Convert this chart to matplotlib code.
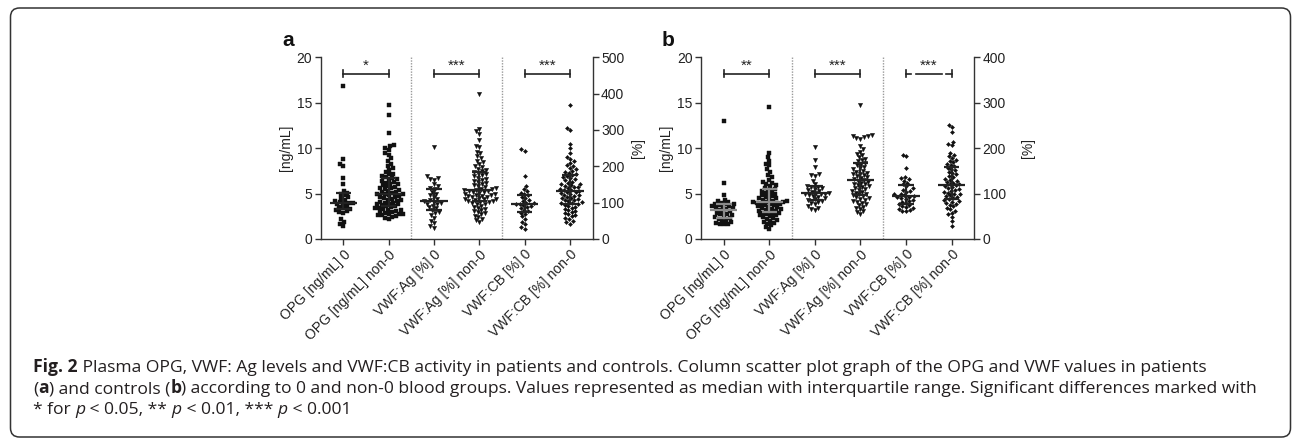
import numpy as np
import matplotlib
matplotlib.use("Agg")
import matplotlib.pyplot as plt
from matplotlib.patches import FancyBboxPatch
from matplotlib.transforms import IdentityTransform

# ---- data ----
categories = ["OPG [ng/mL] 0", "OPG [ng/mL] non-0", "VWF:Ag [%] 0",
              "VWF:Ag [%] non-0", "VWF:CB [%] 0", "VWF:CB [%] non-0"]

# panel a: patients
opg0_a = [16.8, 8.8, 8.3, 8.0, 6.7, 6.0, 5.3, 5.1, 5.0, 4.8, 4.6, 4.5, 4.3, 4.2, 4.1, 4.0,
          4.0, 3.9, 3.8, 3.6, 3.5, 3.4, 3.3, 3.2, 3.1, 3.0, 2.9, 2.2, 1.9, 1.7, 1.4]
opg1_a = [14.7, 13.7, 11.7, 10.3, 10.2, 10.0, 9.8, 9.5, 9.3, 8.9, 8.6, 8.3, 8.0, 7.8, 7.6,
          7.4, 7.2, 7.1, 6.9, 6.8, 6.7, 6.6, 6.5, 6.4, 6.3, 6.2, 6.1, 6.0, 5.9, 5.8, 5.7,
          5.6, 5.6, 5.5, 5.4, 5.3, 5.2, 5.2, 5.1, 5.0, 4.9, 4.9, 4.8, 4.7, 4.6, 4.6, 4.5,
          4.4, 4.3, 4.3, 4.2, 4.1, 4.0, 4.0, 3.9, 3.8, 3.8, 3.7, 3.6, 3.6, 3.5, 3.4, 3.4,
          3.3, 3.2, 3.2, 3.1, 3.0, 3.0, 2.9, 2.8, 2.8, 2.7, 2.6, 2.6, 2.5, 2.4, 2.3, 2.2]
ag0_a = [254, 172, 168, 165, 162, 150, 145, 140, 137, 130, 125, 120, 115, 110, 106, 104,
         103, 100, 97, 95, 92, 88, 84, 80, 75, 71, 66, 58, 50, 43, 35, 30]
ag1_a = [398, 302, 296, 290, 272, 256, 252, 240, 236, 228, 222, 216, 211, 206, 202, 198,
         194, 190, 187, 184, 181, 178, 175, 172, 169, 166, 163, 160, 157, 154, 151, 148,
         145, 142, 139, 138, 137, 135, 134, 133, 131, 129, 128, 127, 125, 123, 122, 121,
         119, 117, 116, 115, 113, 111, 110, 109, 107, 105, 104, 103, 101, 99, 97, 95, 92,
         89, 86, 83, 80, 77, 74, 71, 68, 64, 60, 56, 52, 48]
cb0_a = [247, 242, 173, 146, 138, 132, 127, 124, 120, 116, 112, 108, 104, 100, 98, 96, 95,
         93, 91, 88, 84, 80, 76, 72, 68, 62, 55, 48, 40, 33, 27]
cb1_a = [368, 306, 300, 262, 250, 236, 226, 220, 214, 209, 204, 200, 196, 192, 188, 185,
         182, 179, 176, 173, 170, 167, 164, 161, 158, 155, 152, 150, 148, 146, 144, 142,
         140, 138, 136, 134, 132, 130, 128, 126, 124, 122, 120, 118, 116, 114, 112, 110,
         108, 106, 104, 102, 100, 98, 96, 94, 92, 89, 86, 83, 80, 77, 74, 71, 68, 65, 62,
         58, 54, 50, 46, 42]

# panel b: controls
opg0_b = [13.0, 6.2, 4.8, 4.3, 4.2, 4.1, 4.0, 3.9, 3.8, 3.8, 3.7, 3.6, 3.6, 3.5, 3.4, 3.4,
          3.3, 3.2, 3.1, 3.0, 2.9, 2.8, 2.7, 2.6, 2.5, 2.4, 2.3, 2.2, 2.1, 2.0, 1.9, 1.8, 1.7,
          1.6, 1.6]
opg1_b = [14.5, 9.5, 9.0, 8.6, 8.3, 8.1, 7.7, 7.4, 7.0, 6.8, 6.5, 6.3, 6.2, 6.0, 5.9, 5.8,
          5.6, 5.5, 5.4, 5.3, 5.2, 5.1, 5.0, 4.9, 4.8, 4.7, 4.6, 4.5, 4.5, 4.4, 4.3, 4.2,
          4.2, 4.1, 4.1, 4.1, 4.0, 4.0, 3.9, 3.9, 3.8, 3.7, 3.7, 3.6, 3.5, 3.5, 3.4, 3.3,
          3.3, 3.2, 3.1, 3.1, 3.0, 2.9, 2.9, 2.8, 2.7, 2.6, 2.6, 2.5, 2.4, 2.3, 2.2, 2.1,
          2.0, 1.9, 1.8, 1.7, 1.5, 1.3, 1.1]
ag0_b = [202, 174, 158, 143, 141, 139, 128, 120, 117, 115, 114, 112, 110, 108, 106, 104,
         102, 101, 100, 99, 98, 97, 95, 93, 90, 87, 85, 83, 82, 80, 76, 72, 69, 66, 64]
ag1_b = [294, 228, 227, 226, 224, 222, 220, 205, 198, 192, 188, 184, 180, 177, 174, 171,
         168, 165, 162, 159, 156, 153, 150, 148, 146, 144, 142, 140, 138, 136, 134, 132,
         130, 128, 126, 124, 122, 120, 118, 116, 114, 112, 110, 108, 106, 104, 102, 100,
         98, 96, 94, 92, 90, 88, 86, 84, 82, 80, 77, 74, 71, 68, 65, 62, 59, 56]
cb0_b = [186, 182, 157, 136, 134, 132, 128, 124, 120, 116, 112, 108, 106, 104, 100, 98, 96,
         94, 93, 92, 90, 88, 86, 84, 82, 79, 76, 74, 72, 70, 68, 66, 64, 62, 61]
cb1_b = [252, 246, 236, 214, 210, 206, 190, 186, 182, 178, 175, 172, 169, 166, 163, 160,
         157, 154, 151, 148, 145, 142, 139, 136, 133, 130, 128, 126, 124, 122, 120, 118,
         116, 114, 112, 110, 108, 106, 104, 102, 100, 98, 96, 94, 92, 90, 88, 86, 84, 82,
         80, 78, 75, 72, 69, 66, 62, 58, 54, 49, 40, 29]

sig_a = ["*", "***", "***"]
sig_b = ["**", "***", "***"]
left_ticks = [0, 5, 10, 15, 20]
right_ticks_a = [0, 100, 200, 300, 400, 500]
right_ticks_b = [0, 100, 200, 300, 400]

W, H = 1292, 438
INK = "#222222"
CAP_FONT = "Open Sans"
plt.rcParams["font.family"] = ["Liberation Sans", "DejaVu Sans"]

fig = plt.figure(figsize=(W / 100, H / 100), dpi=100)


def swarm_x(ax_, xc, vals, d):
    # simple beeswarm in pixel space
    pts = ax_.transData.transform(np.column_stack([np.full(len(vals), xc), vals]))
    x0, ys = pts[0, 0], pts[:, 1]
    xs = np.zeros(len(vals))
    placed = []
    for i in np.argsort(ys, kind="stable"):
        y = ys[i]
        near = [(px, py) for px, py in placed if abs(py - y) < d]
        cands = [0.0]
        for px, py in near:
            dx = np.sqrt(d * d - (py - y) ** 2)
            cands += [px + dx, px - dx]
        cands.sort(key=lambda c: (abs(c), c))
        for c in cands:
            if all((c - px) ** 2 + (y - py) ** 2 >= d * d - 1e-6 for px, py in near):
                break
        xs[i] = c
        placed.append((c, y))
    back = ax_.transData.inverted().transform(np.column_stack([x0 + xs, ys]))
    return back[:, 0]


def median_iqr(ax_, xc, vals, color):
    q1, med, q3 = np.percentile(vals, [25, 50, 75])
    ax_.plot([xc - 0.3, xc + 0.3], [med, med], color=color, lw=1.6, zorder=4, solid_capstyle="butt")
    ax_.plot([xc, xc], [q1, q3], color=color, lw=1.6, zorder=4)
    for q in (q1, q3):
        ax_.plot([xc - 0.17, xc + 0.17], [q, q], color=color, lw=1.6, zorder=4, solid_capstyle="butt")


def bracket(ax_, x0, x1, y, label, broken=False):
    if broken:
        segs = [(x0, x0 + 0.12), (x0 + 0.22, x1 - 0.22), (x1 - 0.12, x1)]
    else:
        segs = [(x0, x1)]
    for a, b in segs:
        ax_.plot([a, b], [y, y], color=INK, lw=1.2)
    for xe in (x0, x1):
        ax_.plot([xe, xe], [y - 0.4, y + 0.4], color=INK, lw=1.2)
    ax_.text((x0 + x1) / 2, y + 0.05, label, ha="center", va="bottom", fontsize=11, color=INK)


def make_panel(rect, groups, right_max, right_ticks, sig, letter, letter_xy, rlabel_x,
               opg_bar_color):
    ax = fig.add_axes(rect)
    ax2 = ax.twinx()
    ax.set_xlim(-0.5, 5.5)
    ax.set_ylim(0, 20)
    ax2.set_ylim(0, right_max)
    ax.set_yticks(left_ticks)
    ax2.set_yticks(right_ticks)
    ax.set_xticks(range(len(categories)))
    ax.set_xticklabels(categories, rotation=45, ha="right", rotation_mode="anchor")
    for a in (ax, ax2):
        a.tick_params(direction="out", length=4, width=1, color="#333333", labelsize=10,
                      labelcolor=INK, pad=2)
        for s in a.spines.values():
            s.set_color("#333333")
            s.set_linewidth(1.0)
    ax.spines["top"].set_visible(False)
    ax.spines["right"].set_visible(False)
    for k in ("top", "left", "bottom"):
        ax2.spines[k].set_visible(False)
    ax.set_ylabel("[ng/mL]", fontsize=10, color=INK)
    ax2.set_ylabel("[%]", fontsize=10, color=INK, rotation=90)
    ax.yaxis.set_label_coords(-0.103, 0.5)
    ax2.yaxis.set_label_coords(rlabel_x, 0.5)

    for xd in (1.5, 3.5):
        ax.axvline(xd, color="#9a9a9a", lw=1.0, ls=(0, (1, 1)), zorder=1)

    markers = [("s", 2.7, 4.0), ("s", 2.7, 4.0), ("v", 3.1, 4.1), ("v", 3.1, 4.1),
               ("D", 2.1, 3.9), ("D", 2.1, 3.9)]
    for i, vals in enumerate(groups):
        target = ax if i < 2 else ax2
        m, ms, d = markers[i]
        xs = swarm_x(target, i, vals, d)
        target.plot(xs, vals, ls="none", marker=m, ms=ms, color="#111111", mec="#111111",
                    mew=0.3, zorder=3)
        median_iqr(target, i, vals, opg_bar_color if i < 2 else INK)

    for j, lab in enumerate(sig):
        bracket(ax, 2 * j, 2 * j + 1, 18.2, lab, broken=(letter == "b" and j == 2))

    fig.text(letter_xy[0] / W, 1 - letter_xy[1] / H, letter, fontsize=15, fontweight="bold",
             ha="center", va="center", color="#111111")
    return ax


ax_h = 181.7 / H
ax_b = (H - 239) / H
make_panel([320.7 / W, ax_b, 272 / W, ax_h],
           [opg0_a, opg1_a, ag0_a, ag1_a, cb0_a, cb1_a], 500, right_ticks_a, sig_a,
           "a", (288, 40), 1.141, INK)
make_panel([701 / W, ax_b, 273.3 / W, ax_h],
           [opg0_b, opg1_b, ag0_b, ag1_b, cb0_b, cb1_b], 400, right_ticks_b, sig_b,
           "b", (668, 40), 1.171, "#8a8a8a")

# rounded frame around the figure
frame = FancyBboxPatch((10.5, 1.0), 1280, 429, boxstyle="round,pad=0,rounding_size=9",
                       transform=IdentityTransform(), fill=False, ec="#333333", lw=1.1)
fig.patches.append(frame)

# caption, written part by part
renderer = fig.canvas.get_renderer()
CAP_SIZE = 12.6
CAP_COLOR = "#231f20"


def caption_line(x, y, parts):
    for txt, weight, style in parts:
        t = fig.text(x / W, 1 - y / H, txt, fontsize=CAP_SIZE, fontweight=weight,
                     fontstyle=style, family=[CAP_FONT, "DejaVu Sans"], color=CAP_COLOR,
                     va="baseline", ha="left")
        x += t.get_window_extent(renderer=renderer).width


caption_line(33, 372, [("Fig. 2", "bold", "normal"),
                       (" Plasma OPG, VWF: Ag levels and VWF:CB activity in patients and controls. "
                        "Column scatter plot graph of the OPG and VWF values in patients",
                        "normal", "normal")])
caption_line(33, 393, [("(", "normal", "normal"), ("a", "bold", "normal"),
                       (") and controls (", "normal", "normal"), ("b", "bold", "normal"),
                       (") according to 0 and non-0 blood groups. Values represented as median "
                        "with interquartile range. Significant differences marked with",
                        "normal", "normal")])
caption_line(33, 414, [("* for ", "normal", "normal"), ("p", "normal", "italic"),
                       (" < 0.05, ** ", "normal", "normal"), ("p", "normal", "italic"),
                       (" < 0.01, *** ", "normal", "normal"), ("p", "normal", "italic"),
                       (" < 0.001", "normal", "normal")])

fig.savefig("out.png", dpi=100, facecolor="white")
